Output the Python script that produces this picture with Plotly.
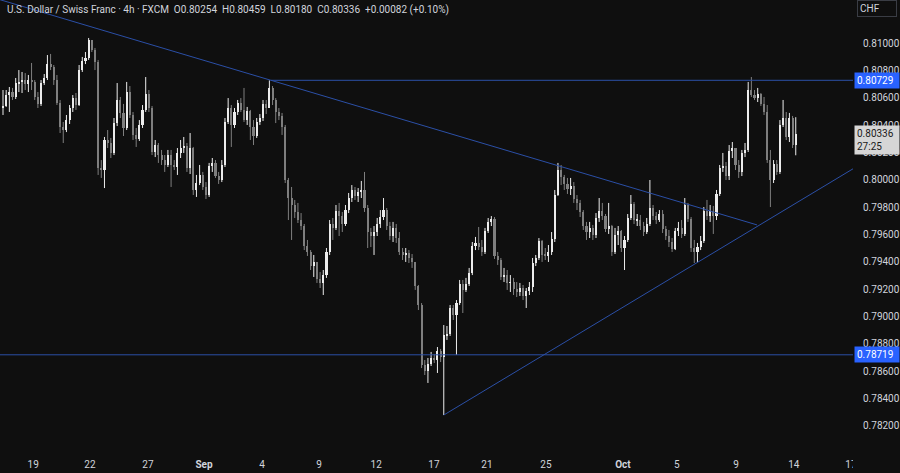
import plotly.graph_objects as go

# ---------------- data (prices in points of 1e-5) ----------------
first_open_pts = 80526

close_pts = [
    80541, 80621, 80643, 80607, 80709, 80717, 80731, 80702, 80731, 80717,
    80607, 80556, 80709, 80746, 80848, 80826, 80731, 80563, 80387, 80365,
    80438, 80526, 80599, 80548, 80804, 80870, 80892, 81024, 80951, 80863,
    80087, 80072, 80292, 80270, 80197, 80416, 80585, 80490, 80380, 80643,
    80475, 80329, 80299, 80402, 80512, 80629, 80526, 80204, 80255, 80182,
    80145, 80109, 80182, 80109, 80094, 80197, 80233, 80248, 80087, 80233,
    79926, 79977,
    80036, 79948, 79889, 80102, 80124, 80028, 79999, 80109, 80424, 80526,
    80402, 80497, 80563, 80512, 80438, 80504, 80387, 80321, 80424, 80453,
    80556, 80526, 80673, 80585, 80497, 80468, 80387, 79999, 79867, 79816,
    79765, 79706, 79662, 79516, 79472, 79369, 79399, 79274, 79245, 79303,
    79472, 79677, 79648, 79772, 79735, 79677, 79779, 79867, 79926, 79882,
    79911, 79926, 79794, 79618, 79589, 79618, 79677, 79728, 79779, 79662,
    79589, 79648, 79574,
    79472, 79450, 79465, 79428, 79399, 79223, 79084, 78644, 78601, 78652,
    78696, 78681, 78747, 78703, 78864, 78872, 79062, 79011, 79098, 79238,
    79194, 79238, 79318, 79516, 79538, 79508, 79472, 79626, 79692, 79713,
    79443, 79413, 79289, 79303, 79245, 79252, 79201, 79179, 79208, 79150,
    79186, 79216, 79391, 79428, 79552, 79450, 79443, 79472, 79567, 79889,
    80072, 80021, 79970, 79933, 79955, 79860, 79831, 79765, 79662, 79618,
    79648, 79596, 79721, 79772,
    79735, 79640, 79662, 79472, 79596, 79626, 79501, 79560, 79721, 79823,
    79706, 79706, 79662, 79618, 79677, 79794, 79735, 79706, 79750, 79640,
    79589, 79545, 79494, 79626, 79648, 79604, 79816, 79713, 79501, 79472,
    79508, 79552, 79772, 79735, 79772, 79735, 79897, 80087, 80102, 80028,
    80211, 80233, 80109, 80058, 80197, 80219, 80658, 80621, 80599, 80629,
    80556, 80497, 80145, 79999, 80116, 80058, 80402, 80453, 80314, 80453,
    80254, 80336,
]

high_pts = [
    80658, 80658, 80680, 80673, 80746, 80804, 80790, 80782, 80768, 80856,
    80731, 80643, 80731, 80775, 80914, 80922, 80841, 80768, 80585, 80424,
    80475, 80548, 80621, 80636, 80841, 80900, 80936, 81039, 81024, 80966,
    80878, 80145, 80314, 80365, 80307, 80453, 80709, 80607, 80556, 80717,
    80687, 80497, 80380, 80438, 80548, 80753, 80658, 80541, 80292, 80270,
    80219, 80182, 80219, 80219, 80145, 80233, 80292, 80314, 80270, 80343,
    80241, 80036,
    80109, 80058, 79984, 80124, 80160, 80145, 80058, 80145, 80453, 80599,
    80548, 80526, 80585, 80599, 80673, 80534, 80512, 80438, 80453, 80482,
    80585, 80585, 80729, 80687, 80599, 80526, 80490, 80402, 80014, 79948,
    79853, 79831, 79757, 79677, 79560, 79486, 79450, 79399, 79325, 79340,
    79501, 79706, 79721, 79816, 79831, 79765, 79816, 79904, 79962, 79948,
    79940, 79992, 80058, 79816, 79648, 79662, 79721, 79779, 79867, 79794,
    79692, 79692, 79677,
    79618, 79501, 79501, 79486, 79457, 79399, 79230, 79098, 78681, 78696,
    78740, 78725, 78776, 78762, 78937, 78930, 79084, 79084, 79120, 79267,
    79267, 79282, 79355, 79545, 79582, 79655, 79560, 79648, 79721, 79735,
    79728, 79472, 79428, 79355, 79340, 79303, 79282, 79252, 79245, 79230,
    79208, 79252, 79428, 79450, 79574, 79560, 79501, 79523, 79618, 79926,
    80124, 80109, 80036, 80014, 80014, 79984, 79889, 79853, 79779, 79692,
    79692, 79670, 79757, 79867,
    79831, 79750, 79831, 79670, 79648, 79662, 79633, 79589, 79750, 79889,
    79838, 79750, 79743, 79692, 79721, 79999, 79816, 79765, 79779, 79779,
    79662, 79633, 79574, 79648, 79692, 79706, 79867, 79831, 79728, 79560,
    79538, 79589, 79801, 79853, 79816, 79809, 79926, 80109, 80197, 80131,
    80255, 80277, 80233, 80145, 80219, 80270, 80717, 80753, 80658, 80673,
    80636, 80607, 80548, 80219, 80145, 80145, 80438, 80585, 80497, 80490,
    80468, 80459,
]

low_pts = [
    80475, 80534, 80497, 80585, 80592, 80643, 80636, 80658, 80643, 80658,
    80585, 80526, 80541, 80695, 80731, 80804, 80695, 80548, 80343, 80270,
    80350, 80409, 80497, 80512, 80541, 80790, 80848, 80878, 80936, 80804,
    80036, 80014, 79940, 80233, 80160, 80182, 80394, 80453, 80321, 80365,
    80453, 80292, 80241, 80285, 80380, 80497, 80497, 80182, 80167, 80124,
    80109, 80058, 80094, 79948, 80072, 80036, 80160, 80197, 80058, 80043,
    79889, 79875,
    79962, 79926, 79860, 79875, 80058, 80014, 79970, 79984, 80094, 80409,
    80241, 80380, 80475, 80497, 80424, 80402, 80292, 80255, 80307, 80402,
    80431, 80482, 80526, 80548, 80416, 80438, 80329, 79977, 79706, 79560,
    79721, 79684, 79633, 79486, 79443, 79340, 79289, 79245, 79208, 79157,
    79282, 79450, 79560, 79633, 79589, 79618, 79662, 79757, 79838, 79853,
    79838, 79867, 79765, 79501, 79508, 79450, 79589, 79648, 79706, 79633,
    79560, 79545, 79538,
    79450, 79413, 79399, 79391, 79355, 79194, 79047, 78622, 78571, 78513,
    78637, 78659, 78586, 78666, 78278, 78828, 78857, 78974, 78718, 79084,
    79025, 79179, 79223, 79303, 79486, 79486, 79443, 79457, 79611, 79662,
    79421, 79377, 79267, 79252, 79194, 79179, 79157, 79142, 79150, 79120,
    79062, 79157, 79179, 79369, 79413, 79399, 79413, 79399, 79450, 79545,
    79882, 79962, 79926, 79897, 79889, 79831, 79779, 79728, 79633, 79560,
    79574, 79560, 79574, 79692,
    79706, 79618, 79604, 79443, 79457, 79523, 79472, 79340, 79545, 79706,
    79677, 79662, 79633, 79589, 79604, 79662, 79706, 79677, 79692, 79611,
    79560, 79508, 79472, 79486, 79589, 79574, 79589, 79692, 79472, 79391,
    79399, 79486, 79538, 79706, 79692, 79604, 79706, 79882, 80058, 79999,
    79999, 80160, 80072, 80014, 80028, 80167, 80204, 80607, 80585, 80570,
    80541, 80475, 80124, 79801, 79977, 80036, 80043, 80387, 80292, 80277,
    80233, 80180,
]

# x-axis date labels (positions in candle-index units)
x_tick_pos = [9.5, 27.4, 45.7, 63.4, 81.7, 99.7, 117.7, 135.9, 152.6, 171.2,
              195.5, 212.5, 231.2, 249.4, 267.4]
x_tick_text = ["19", "22", "27", "<b>Sep</b>", "4", "9", "12", "17", "21", "25",
               "<b>Oct</b>", "5", "9", "14", "17"]

y_tick_vals = [0.782, 0.784, 0.786, 0.788, 0.790, 0.792, 0.794, 0.796, 0.798,
               0.800, 0.802, 0.804, 0.806, 0.808, 0.810]

# drawn levels / trendlines (index, price)
resistance = 0.80729
support = 0.78719
resistance_start = 84.5
down_trend = [(84.5, 0.80729), (237.8, 0.79670)]
up_trend = [(139.0, 0.78278), (268.05, 0.80081)]
countdown = "27:25"

x_range = [-0.95, 268.05]
y_range = [0.78044, 0.81317]

# ---------------- build ----------------
assert len(close_pts) == len(high_pts) == len(low_pts)
n = len(close_pts)
closes = [c / 1e5 for c in close_pts]
opens = [first_open_pts / 1e5] + closes[:-1]
highs = [max(h / 1e5, o, c) for h, o, c in zip(high_pts, opens, closes)]
lows = [min(l / 1e5, o, c) for l, o, c in zip(low_pts, opens, closes)]
idx = list(range(n))

UP = "#ececec"
DOWN = "#7f7f7f"
BG = "#0f0f0f"
LINE = "#2b4fa6"
TXT = "#d1d4dc"
FONT = "Roboto, Liberation Sans, Arial, sans-serif"

is_up = [c >= o for o, c in zip(opens, closes)]

fig = go.Figure()

# wicks
for flag, col in ((True, UP), (False, DOWN)):
    wx, wy = [], []
    for i in idx:
        if is_up[i] == flag:
            wx += [i, i, None]
            wy += [lows[i], highs[i], None]
    fig.add_trace(go.Scatter(x=wx, y=wy, mode="lines",
                             line=dict(color=col, width=1),
                             hoverinfo="skip", showlegend=False))

# bodies
fig.add_trace(go.Bar(
    x=idx,
    base=[min(o, c) for o, c in zip(opens, closes)],
    y=[max(abs(c - o), 0.000012) for o, c in zip(opens, closes)],
    width=0.66,
    marker=dict(color=[UP if u else DOWN for u in is_up], line=dict(width=0)),
    hoverinfo="skip", showlegend=False))

# horizontal levels
fig.add_trace(go.Scatter(x=[resistance_start, x_range[1]], y=[resistance, resistance],
                         mode="lines", line=dict(color=LINE, width=1),
                         hoverinfo="skip", showlegend=False))
fig.add_trace(go.Scatter(x=x_range, y=[support, support],
                         mode="lines", line=dict(color=LINE, width=1),
                         hoverinfo="skip", showlegend=False))

# descending trendline, extended to the left edge
(x1, y1), (x2, y2) = down_trend
slope = (y2 - y1) / (x2 - x1)
x_left = x_range[0] - 5
fig.add_trace(go.Scatter(x=[x_left, x2], y=[y1 + slope * (x_left - x1), y2],
                         mode="lines", line=dict(color=LINE, width=1),
                         hoverinfo="skip", showlegend=False))
# ascending trendline
fig.add_trace(go.Scatter(x=[p[0] for p in up_trend], y=[p[1] for p in up_trend],
                         mode="lines", line=dict(color=LINE, width=1),
                         hoverinfo="skip", showlegend=False))

last_o, last_h, last_l, last_c = opens[-1], highs[-1], lows[-1], closes[-1]
chg = last_c - closes[-2]
pct = chg / closes[-2] * 100
sp = "\u00a0"
title_txt = (f"U.S. Dollar / Swiss Franc · 4h · FXCM{sp}{sp}O{last_o:.5f}{sp}{sp}"
             f"H{last_h:.5f}{sp}{sp}L{last_l:.5f}{sp}{sp}C{last_c:.5f}{sp}{sp}"
             f"{chg:+.5f} ({pct:+.2f}%)")

annotations = [
    dict(text=title_txt, xref="paper", yref="paper", x=0, y=1, xanchor="left",
         yanchor="top", xshift=5, yshift=-2, showarrow=False,
         font=dict(size=10, color=TXT, family=FONT)),
    dict(text="CHF", xref="paper", yref="paper", x=1, y=1, xanchor="left",
         yanchor="top", xshift=4, showarrow=False, width=34, align="left",
         bordercolor="#3a3d45", borderwidth=1, borderpad=2, bgcolor=BG,
         font=dict(size=10, color=TXT, family=FONT)),
    dict(text=f"{resistance:.5f}", xref="paper", yref="y", x=1, y=resistance,
         xanchor="left", yanchor="middle", xshift=1, showarrow=False, width=40,
         align="left", bgcolor="#2962ff", borderpad=2,
         font=dict(size=10, color="#ffffff", family=FONT)),
    dict(text=f"{support:.5f}", xref="paper", yref="y", x=1, y=support,
         xanchor="left", yanchor="middle", xshift=1, showarrow=False, width=40,
         align="left", bgcolor="#2962ff", borderpad=2,
         font=dict(size=10, color="#ffffff", family=FONT)),
    dict(text=f"{last_c:.5f}<br>{countdown}", xref="paper", yref="y", x=1, y=last_c,
         xanchor="left", yanchor="middle", xshift=1, yshift=-6, showarrow=False,
         width=40, align="left", bgcolor="#d6d6d6", borderpad=2,
         font=dict(size=10, color="#1a1a1a", family=FONT)),
]

fig.update_layout(
    width=900, height=473,
    margin=dict(l=0, r=47, t=0, b=26),
    paper_bgcolor=BG, plot_bgcolor=BG,
    font=dict(family=FONT, size=10, color=TXT),
    showlegend=False,
    bargap=0,
    annotations=annotations,
    shapes=[dict(type="rect", xref="paper", yref="paper", x0=1, x1=1.2,
                 y0=-0.2, y1=-0.002, fillcolor=BG, line=dict(width=0),
                 layer="above")],
    xaxis=dict(range=x_range, showgrid=False, zeroline=False, showline=False,
               tickmode="array", tickvals=x_tick_pos, ticktext=x_tick_text,
               ticks="outside", ticklen=8, tickcolor="rgba(0,0,0,0)",
               tickfont=dict(size=10, color=TXT, family=FONT), fixedrange=True),
    yaxis=dict(range=y_range, side="right", showgrid=False, zeroline=False,
               showline=False, tickmode="array", tickvals=y_tick_vals,
               tickformat=".5f", ticks="outside", ticklen=7,
               tickcolor="rgba(0,0,0,0)",
               tickfont=dict(size=10, color=TXT, family=FONT), fixedrange=True),
)

fig.write_html(
    "out.html",
    config={"displayModeBar": False},
    post_script="document.body.style.margin='0';"
                "document.body.style.overflow='hidden';"
                "document.body.style.background='#0f0f0f';",
)
